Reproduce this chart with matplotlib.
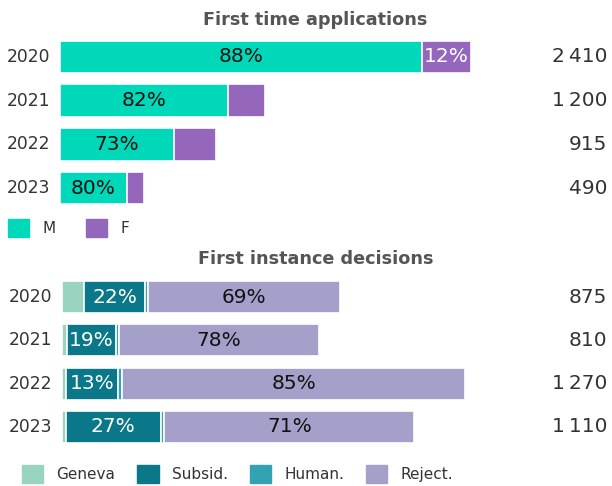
import matplotlib.pyplot as plt
from matplotlib.patches import Patch
from matplotlib.transforms import blended_transform_factory

plt.rcParams['font.family'] = ['DejaVu Sans']

years = ["2020", "2021", "2022", "2023"]

# first time applications
app_total = [2410, 1200, 915, 490]
app_m_pct = [88, 82, 73, 80]
app_f_pct = [12, 18, 27, 20]
app_f_show = [True, False, False, False]

# first instance decisions
dec_total = [875, 810, 1270, 1110]
dec_geneva = [8, 2, 1, 1]
dec_subsid = [22, 19, 13, 27]
dec_human = [1, 1, 1, 1]
dec_reject = [69, 78, 85, 71]

c_m = "#00d9b9"
c_f = "#9467bd"
c_geneva = "#98d4c0"
c_subsid = "#0b7889"
c_human = "#33a3b3"
c_reject = "#a4a0ca"

W, H = 612, 486
fig = plt.figure(figsize=(W / 100, H / 100), dpi=100)

ax1 = fig.add_axes([60 / W, 1 - 210 / H, 480 / W, 175 / H])
ax2 = fig.add_axes([62 / W, 1 - 448.5 / H, 478 / W, 173 / H])
ax1.set_xlim(0, 480 / 0.1705)
ax2.set_xlim(0, 478 / 0.3175)

ypos = range(len(years))


def stack(ax, series, colors, show, txtcolors):
    left = [0] * len(years)
    for vals, col, sh, tc in zip(series, colors, show, txtcolors):
        widths = [t * v / 100 for t, v in zip(ax.totals, vals)]
        ax.barh(ypos, widths, left=left, height=0.74, color=col,
                edgecolor="white", linewidth=1.2)
        for i, (w, l) in enumerate(zip(widths, left)):
            if sh[i]:
                ax.text(l + w / 2, i, f"{vals[i]}%", ha="center", va="center",
                        fontsize=14.5, color=tc)
        left = [a + b for a, b in zip(left, widths)]


ax1.totals = app_total
ax2.totals = dec_total
stack(ax1, [app_m_pct, app_f_pct], [c_m, c_f],
      [[True] * 4, app_f_show], ["#111111", "white"])
stack(ax2, [dec_geneva, dec_subsid, dec_human, dec_reject],
      [c_geneva, c_subsid, c_human, c_reject],
      [[False] * 4, [True] * 4, [False] * 4, [True] * 4],
      ["black", "white", "white", "#111111"])

for ax, totals, yx in [(ax1, app_total, 7 / W), (ax2, dec_total, 9 / W)]:
    ax.set_ylim(len(years) - 0.5, -0.5)
    ax.axis("off")
    tr = blended_transform_factory(fig.transFigure, ax.transData)
    for i, (y, t) in enumerate(zip(years, totals)):
        ax.text(yx, i, y, transform=tr, ha="left", va="center",
                fontsize=12.3, color="#333333")
        ax.text(607 / W, i, f"{t:,}".replace(",", "\u2009"), transform=tr,
                ha="right", va="center", fontsize=14.5, color="#333333")

fig.text(315 / W, 1 - 20 / H, "First time applications", ha="center",
         va="center", fontsize=12.7, fontweight="bold", color="#555555")
fig.text(316 / W, 1 - 259 / H, "First instance decisions", ha="center",
         va="center", fontsize=12.7, fontweight="bold", color="#555555")

leg1 = fig.legend([Patch(color=c_m), Patch(color=c_f)], ["M", "F"],
                  loc="center left", bbox_to_anchor=(-6 / W, 1 - 228 / H),
                  ncol=2, frameon=False, fontsize=11, handlelength=1.4,
                  handleheight=1.4, columnspacing=2.0, handletextpad=0.85,
                  labelcolor="#333333")
leg2 = fig.legend([Patch(color=c) for c in [c_geneva, c_subsid, c_human, c_reject]],
                  ["Geneva", "Subsid.", "Human.", "Reject."],
                  loc="center left", bbox_to_anchor=(8 / W, 1 - 474 / H),
                  ncol=4, frameon=False, fontsize=11, handlelength=1.4,
                  handleheight=1.4, columnspacing=1.45, handletextpad=0.85,
                  labelcolor="#333333")

fig.savefig("out.png", dpi=100)
